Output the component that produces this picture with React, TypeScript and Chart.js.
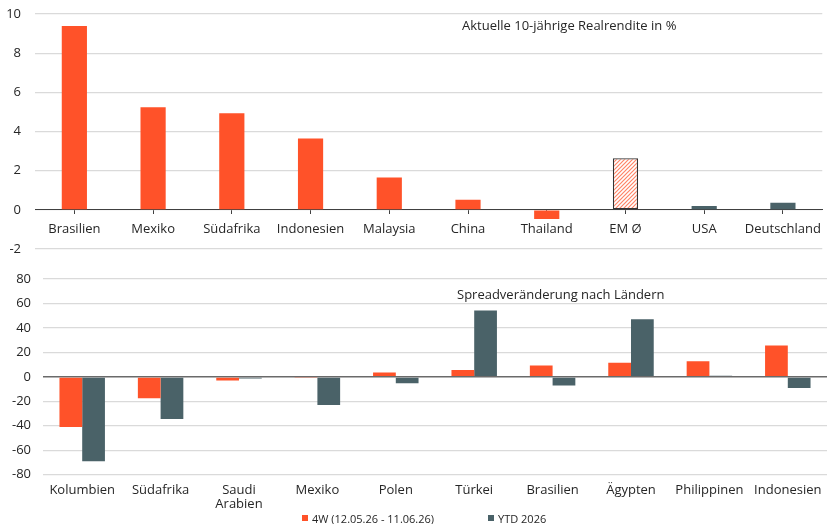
import { useEffect, useRef } from 'react';
import { Chart, registerables } from 'chart.js';

Chart.register(...registerables);

// ---- Aktuelle 10-jährige Realrendite ----
const realYieldCountries = ['Brasilien', 'Mexiko', 'Südafrika', 'Indonesien', 'Malaysia', 'China', 'Thailand', 'EM Ø', 'USA', 'Deutschland'];
const realYields = [9.39, 5.24, 4.93, 3.64, 1.65, 0.51, -0.47, 2.64, 0.2, 0.36];
const benchmarkCountries = ['USA', 'Deutschland'];
const averageLabel = 'EM Ø';
const realYieldMin = -2;
const realYieldMax = 10;
const realYieldStep = 2;
const realYieldCaption = 'Aktuelle 10-jährige Realrendite in %';

// ---- Spreadveränderung nach Ländern (Bp) ----
const spreadCountries: (string | string[])[] = ['Kolumbien', 'Südafrika', ['Saudi', 'Arabien'], 'Mexiko', 'Polen', 'Türkei', 'Brasilien', 'Ägypten', 'Philippinen', 'Indonesien'];
const spread4W = [-41, -17.5, -3, -0.5, 3.6, 5.5, 9.3, 11.5, 12.8, 25.7];
const spreadYTD = [-69, -34.5, -1.3, -23, -5.2, 54.3, -7, 47, 0.8, -9.2];
const spreadSeriesLabels = ['4W (12.05.26 - 11.06.26)', 'YTD 2026'];
const spreadMin = -80;
const spreadMax = 80;
const spreadStep = 20;
const spreadCaption = 'Spreadveränderung nach Ländern';

const ORANGE = '#ff5229';
const SLATE = '#4a6268';
const GRID = '#dadada';
const TEXT = '#262626';
const FONT = "'Open Sans', sans-serif";

const WIDTH = 829;
const PANEL_H = 262;

Chart.defaults.font.family = FONT;
Chart.defaults.color = TEXT;

const captionPlugin = {
  id: 'panelCaption',
  afterDraw(chart: any, _args: any, opts: any) {
    if (!opts || !opts.text) return;
    const { ctx, chartArea } = chart;
    ctx.save();
    ctx.font = `${opts.size}px ${FONT}`;
    ctx.fillStyle = TEXT;
    ctx.textAlign = 'left';
    ctx.textBaseline = 'middle';
    ctx.fillText(opts.text, chartArea.left + opts.dx, chartArea.top + opts.dy);
    ctx.restore();
  },
};

function makeHatch(): CanvasPattern | string {
  const size = 4;
  const c = document.createElement('canvas');
  c.width = size;
  c.height = size;
  const g = c.getContext('2d');
  if (!g) return '#ffb19d';
  g.fillStyle = '#ffffff';
  g.fillRect(0, 0, size, size);
  g.strokeStyle = '#ff8466';
  g.lineWidth = 1.2;
  g.beginPath();
  g.moveTo(0, size);
  g.lineTo(size, 0);
  g.moveTo(-1, 1);
  g.lineTo(1, -1);
  g.moveTo(size - 1, size + 1);
  g.lineTo(size + 1, size - 1);
  g.stroke();
  return g.createPattern(c, 'repeat') || '#ffb19d';
}

// fixed y-axis width; keep the tick-label padding from pushing the plot area inwards
const fixedYAxis = (width: number) => (s: any) => {
  s.width = width;
  s.paddingTop = 0;
  s.paddingBottom = 0;
};

function RealYieldChart() {
  const ref = useRef<HTMLCanvasElement>(null);
  useEffect(() => {
    if (!ref.current) return;
    const hatch = makeHatch();
    const colors = realYieldCountries.map((c) =>
      c === averageLabel ? hatch : benchmarkCountries.includes(c) ? SLATE : ORANGE
    );
    const borders = realYieldCountries.map((c) => (c === averageLabel ? 1.3 : 0));
    const chart = new Chart(ref.current, {
      type: 'bar',
      data: {
        labels: realYieldCountries,
        datasets: [
          {
            label: 'Realrendite',
            data: realYields,
            backgroundColor: colors as any,
            borderColor: '#333333',
            borderWidth: borders,
            borderSkipped: false,
            barPercentage: 0.32,
            categoryPercentage: 1,
          },
        ],
      },
      plugins: [captionPlugin],
      options: {
        responsive: false,
        animation: false,
        layout: { padding: { top: 14, bottom: 13, left: 0, right: 0 } },
        plugins: {
          legend: { display: false },
          tooltip: { enabled: false },
          panelCaption: { text: realYieldCaption, size: 13, dx: 427, dy: 12 },
        } as any,
        scales: {
          x: {
            position: { y: 0 } as any,
            afterFit: (s: any) => {
              s.height = 0;
            },
            grid: {
              display: true,
              drawOnChartArea: false,
              drawTicks: true,
              tickLength: 4,
              offset: false,
              color: '#404040',
            },
            border: { display: true, color: '#404040', width: 1 },
            ticks: {
              autoSkip: false,
              maxRotation: 0,
              padding: 8,
              font: { size: 13 },
              color: TEXT,
            },
          },
          y: {
            min: realYieldMin,
            max: realYieldMax,
            afterFit: fixedYAxis(35),
            ticks: { stepSize: realYieldStep, padding: 14, font: { size: 13 }, color: TEXT },
            grid: { color: GRID, lineWidth: 1.2, drawTicks: false },
            border: { display: false },
          },
        },
      },
    });
    return () => chart.destroy();
  }, []);
  return <canvas ref={ref} width={WIDTH} height={PANEL_H} style={{ display: 'block' }} />;
}

function SpreadChart() {
  const ref = useRef<HTMLCanvasElement>(null);
  useEffect(() => {
    if (!ref.current) return;
    const chart = new Chart(ref.current, {
      type: 'bar',
      data: {
        labels: spreadCountries as any,
        datasets: [
          {
            label: spreadSeriesLabels[0],
            data: spread4W,
            backgroundColor: ORANGE,
            borderWidth: 0,
            barPercentage: 1,
            categoryPercentage: 0.58,
          },
          {
            label: spreadSeriesLabels[1],
            data: spreadYTD,
            backgroundColor: SLATE,
            borderWidth: 0,
            barPercentage: 1,
            categoryPercentage: 0.58,
          },
        ],
      },
      plugins: [captionPlugin],
      options: {
        responsive: false,
        animation: false,
        layout: { padding: { top: 17, bottom: 5.3, left: 0, right: 2 } },
        plugins: {
          legend: { display: false },
          tooltip: { enabled: false },
          panelCaption: { text: spreadCaption, size: 13, dx: 414, dy: 16.7 },
        } as any,
        scales: {
          x: {
            afterFit: (s: any) => {
              s.height = 44;
            },
            grid: { display: false },
            border: { display: false },
            ticks: {
              autoSkip: false,
              maxRotation: 0,
              padding: 0,
              font: { size: 13, lineHeight: 1.1 },
              color: TEXT,
            },
          },
          y: {
            min: spreadMin,
            max: spreadMax,
            afterFit: fixedYAxis(43),
            ticks: { stepSize: spreadStep, padding: 12, font: { size: 13 }, color: TEXT },
            grid: {
              color: (ctx: any) => (ctx.tick && ctx.tick.value === 0 ? '#6a6a6a' : GRID),
              lineWidth: (ctx: any) => (ctx.tick && ctx.tick.value === 0 ? 1.6 : 1.2),
              drawTicks: false,
            },
            border: { display: false },
          },
        },
      },
    });
    return () => chart.destroy();
  }, []);
  return <canvas ref={ref} width={WIDTH} height={PANEL_H} style={{ display: 'block' }} />;
}

const legendItems = [
  { label: spreadSeriesLabels[0], color: ORANGE, left: 302 },
  { label: spreadSeriesLabels[1], color: SLATE, left: 488 },
];

export default function App() {
  return (
    <div
      style={{
        position: 'fixed',
        left: 0,
        top: 0,
        width: WIDTH,
        height: 524,
        background: '#ffffff',
        overflow: 'hidden',
      }}
    >
      <div style={{ position: 'absolute', left: 0, top: 0 }}>
        <RealYieldChart />
      </div>
      <div style={{ position: 'absolute', left: 0, top: PANEL_H }}>
        <SpreadChart />
      </div>
      {legendItems.map((item) => (
        <div
          key={item.label}
          style={{
            position: 'absolute',
            left: item.left,
            top: 510,
            height: 16,
            display: 'flex',
            alignItems: 'center',
            fontFamily: FONT,
            fontSize: 11,
            color: TEXT,
            whiteSpace: 'nowrap',
          }}
        >
          <span style={{ display: 'inline-block', width: 6, height: 6, background: item.color, marginRight: 4 }} />
          <span>{item.label}</span>
        </div>
      ))}
    </div>
  );
}
